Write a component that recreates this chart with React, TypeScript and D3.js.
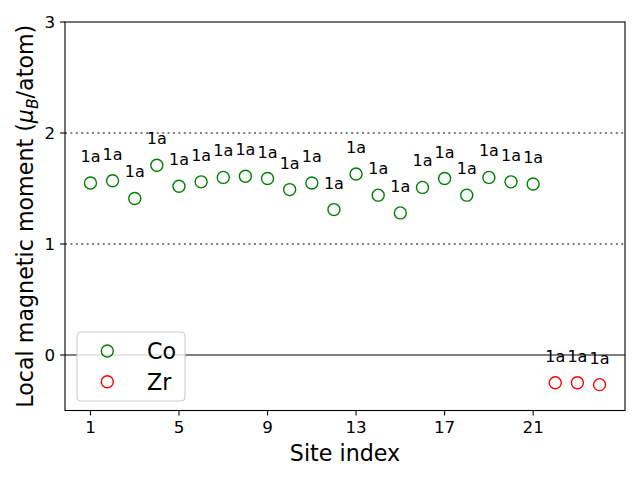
import React from "react";
import * as d3 from "d3";

const coSites = [1, 2, 3, 4, 5, 6, 7, 8, 9, 10, 11, 12, 13, 14, 15, 16, 17, 18, 19, 20, 21];
const coMoments = [1.55, 1.57, 1.41, 1.71, 1.52, 1.56, 1.60, 1.61, 1.59, 1.49, 1.55, 1.31, 1.63, 1.44, 1.28, 1.51, 1.59, 1.44, 1.60, 1.56, 1.54];
const zrSites = [22, 23, 24];
const zrMoments = [-0.25, -0.25, -0.267];
const siteLabel = "1a";
const xTicks = [1, 5, 9, 13, 17, 21];
const yTicks = [0, 1, 2, 3];
const refLines = [1, 2];

const W = 640;
const H = 480;
const M = { left: 65, right: 625, top: 22, bottom: 410.5 };
const FONT = "DejaVu Sans, sans-serif";

export default function App() {
  const x = d3.scaleLinear().domain([-0.15, 25.15]).range([M.left, M.right]);
  const y = d3.scaleLinear().domain([-0.5, 3]).range([M.bottom, M.top]);

  const series = [
    { name: "Co", color: "#008000", xs: coSites, ys: coMoments },
    { name: "Zr", color: "#ff0000", xs: zrSites, ys: zrMoments },
  ];

  const legendX = 77;
  const legendY = 332;

  return (
    <div style={{ position: "absolute", left: 0, top: 0 }}>
      <svg width={W} height={H} style={{ display: "block", background: "#fff" }} fontFamily={FONT}>
        <defs>
          <clipPath id="plotclip">
            <rect x={M.left} y={M.top} width={M.right - M.left} height={M.bottom - M.top} />
          </clipPath>
        </defs>
        <g clipPath="url(#plotclip)">
          {refLines.map((v) => (
            <line key={v} x1={M.left} x2={M.right} y1={y(v)} y2={y(v)} stroke="#808080" strokeWidth={2} strokeDasharray="2,3.4" />
          ))}
          <line x1={M.left} x2={M.right} y1={y(0)} y2={y(0)} stroke="#808080" strokeWidth={2} />
          {series.map((s) =>
            s.xs.map((xi, i) => (
              <g key={s.name + xi}>
                <circle cx={x(xi)} cy={y(s.ys[i])} r={6} fill="none" stroke={s.color} strokeWidth={1.4} />
              </g>
            ))
          )}
        </g>
        {series.map((s) =>
          s.xs.map((xi, i) => (
            <text key={"t" + s.name + xi} x={x(xi)} y={y(s.ys[i]) - 21} textAnchor="middle" fontSize={16} fill="#000">
              {siteLabel}
            </text>
          ))
        )}
        <rect x={M.left} y={M.top} width={M.right - M.left} height={M.bottom - M.top} fill="none" stroke="#000" strokeWidth={1.1} />
        {xTicks.map((t) => (
          <g key={"x" + t}>
            <line x1={x(t)} x2={x(t)} y1={M.bottom} y2={M.bottom + 4.9} stroke="#000" strokeWidth={1.1} />
            <text x={x(t)} y={M.bottom + 9.8 + 13} textAnchor="middle" fontSize={16.7} fill="#000">{t}</text>
          </g>
        ))}
        {yTicks.map((t) => (
          <g key={"y" + t}>
            <line x1={M.left - 4.9} x2={M.left} y1={y(t)} y2={y(t)} stroke="#000" strokeWidth={1.1} />
            <text x={M.left - 9.8} y={y(t) + 6} textAnchor="end" fontSize={16.7} fill="#000">{t}</text>
          </g>
        ))}
        <text x={(M.left + M.right) / 2} y={461} textAnchor="middle" fontSize={22.2} fill="#000">Site index</text>
        <text transform={`translate(33,${(M.top + M.bottom) / 2}) rotate(-90)`} textAnchor="middle" fontSize={22.2} fill="#000">
          Local magnetic moment (<tspan fontStyle="italic">μ</tspan>
          <tspan fontStyle="italic" fontSize={15.5} dy={5}>B</tspan>
          <tspan dy={-5}>/atom)</tspan>
        </text>
        <rect x={legendX} y={legendY} width={108} height={69} rx={4} fill="#fff" fillOpacity={0.8} stroke="#cccccc" strokeWidth={1.1} />
        {series.map((s, i) => (
          <g key={"lg" + s.name}>
            <circle cx={107.3} cy={351 + i * 30.7} r={6} fill="none" stroke={s.color} strokeWidth={1.4} />
            <text x={147} y={351 + i * 30.7 + 8} fontSize={22.2} fill="#000">{s.name}</text>
          </g>
        ))}
      </svg>
    </div>
  );
}
